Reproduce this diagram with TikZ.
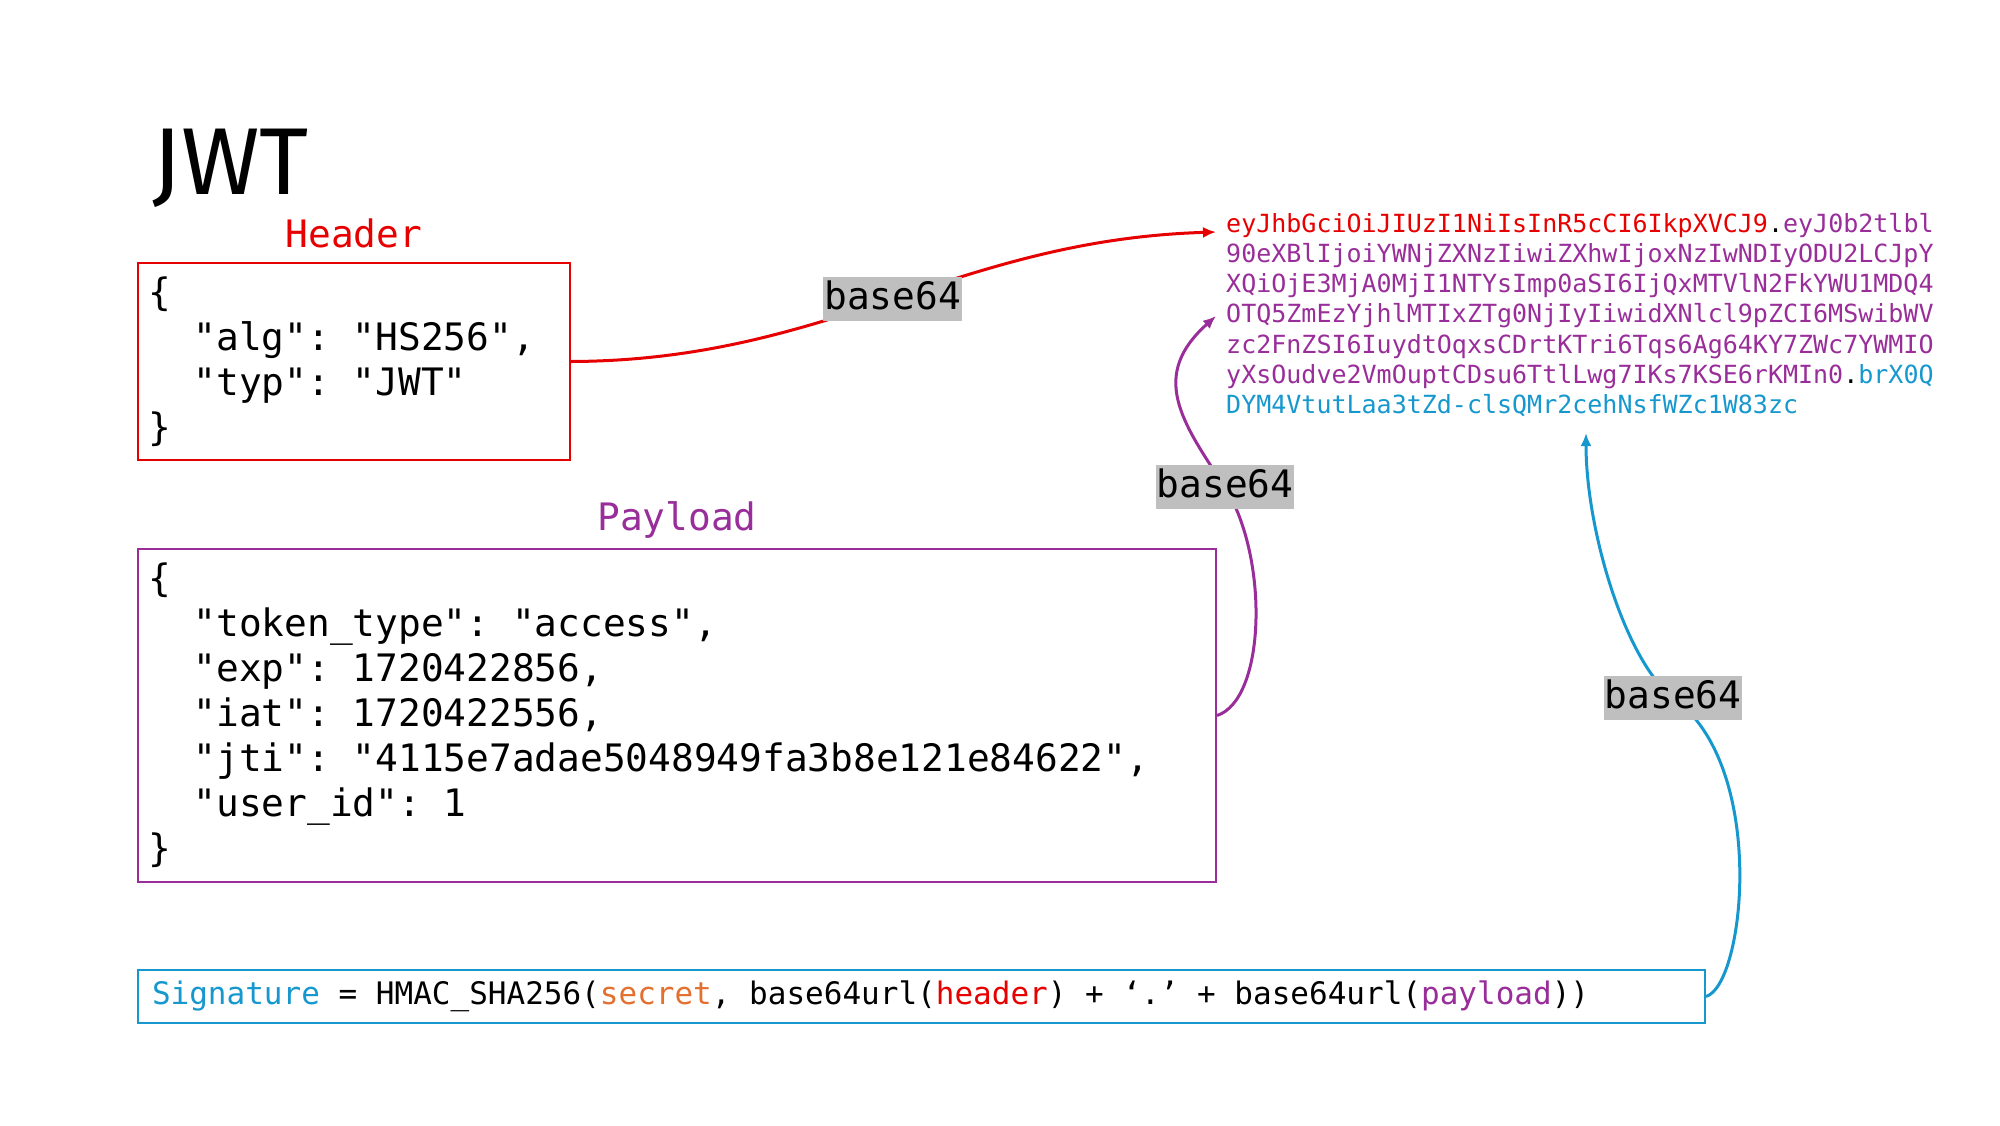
\documentclass[tikz,border=0pt]{standalone}
\usepackage{fontspec}
\setmonofont{DejaVu Sans Mono}
\newfontfamily\titlefont{Fira Sans}
\usetikzlibrary{arrows.meta}
\definecolor{jred}{RGB}{230,0,0}
\definecolor{jpurple}{RGB}{153,45,153}
\definecolor{jblue}{RGB}{22,152,206}
\definecolor{jorange}{RGB}{228,112,48}
\definecolor{jgray}{RGB}{191,191,191}
\newcommand\tsp{\hspace*{0.60205em}}
\tikzset{
  codebox/.style={draw, line width=2pt, rectangle, align=left, inner xsep=10pt,
    font=\ttfamily\fontsize{37.8pt}{45pt}\selectfont},
  boxlabel/.style={anchor=base, font=\ttfamily\fontsize{37.8pt}{45pt}\selectfont},
  lbl/.style={fill=jgray, text=black, inner xsep=1pt, inner ysep=4pt,
    text height=28pt, text depth=8pt, minimum width=136pt,
    font=\ttfamily\fontsize{37.8pt}{45pt}\selectfont},
  tokline/.style={anchor=base west, inner xsep=10pt, inner ysep=0pt,
    font=\ttfamily\fontsize{25pt}{30pt}\selectfont},
  conn/.style={line width=3pt, -{Latex[length=13pt,width=11pt]}},
}
\begin{document}
\begin{tikzpicture}[x=1pt,y=-1pt]
\useasboundingbox (0,0) rectangle (2000,1125);

% title
\node[anchor=base west, inner sep=0pt, font=\titlefont\fontsize{95pt}{100pt}\selectfont] (title) at (152,194) {JWT};

% header
\node[codebox, draw=jred, anchor=north west, text width=412pt, minimum height=197pt] (hdr) at (137,262)
  {\{\\\phantom{xx}"alg":\tsp"HS256",\\\phantom{xx}"typ":\tsp"JWT"\\\}};
\node[boxlabel, text=jred] (hdrlbl) at ([yshift=15pt]hdr.north) {Header};

% payload
\node[codebox, draw=jpurple, anchor=north west, text width=1058pt, minimum height=333pt] (pay) at (137,548)
  {\{\\\phantom{xx}"token\_type":\tsp"access",\\\phantom{xx}"exp":\tsp1720422856,\\\phantom{xx}"iat":\tsp1720422556,\\\phantom{xx}"jti":\tsp"4115e7adae5048949fa3b8e121e84622",\\\phantom{xx}"user\_id":\tsp1\\\}};
\node[boxlabel, text=jpurple] (paylbl) at ([yshift=18pt]pay.north) {Payload};

% signature
\node[draw=jblue, line width=2pt, anchor=north west, text width=1539pt, inner xsep=14pt, align=left,
  minimum height=53pt, font=\ttfamily\fontsize{31pt}{37pt}\selectfont] (sig) at (137,969)
  {{\color{jblue}Signature}\tsp=\tsp HMAC\_SHA256({\color{jorange}secret},\tsp base64url({\color{jred}header})\tsp+\tsp‘.’\tsp+\tsp base64url({\color{jpurple}payload}))};

% token
\node[tokline] (tl1) at (1216,232) {{\color{jred}eyJhbGciOiJIUzI1NiIsInR5cCI6IkpXVCJ9}{\color{black}.}{\color{jpurple}eyJ0b2tlbl}};
\node[tokline, text=jpurple] (tl2) at (1216,262.3) {90eXBlIjoiYWNjZXNzIiwiZXhwIjoxNzIwNDIyODU2LCJpY};
\node[tokline, text=jpurple] (tl3) at (1216,292.6) {XQiOjE3MjA0MjI1NTYsImp0aSI6IjQxMTVlN2FkYWU1MDQ4};
\node[tokline, text=jpurple] (tl4) at (1216,322.9) {OTQ5ZmEzYjhlMTIxZTg0NjIyIiwidXNlcl9pZCI6MSwibWV};
\node[tokline, text=jpurple] (tl5) at (1216,353.2) {zc2FnZSI6IuydtOqxsCDrtKTri6Tqs6Ag64KY7ZWc7YWMIO};
\node[tokline, text=jpurple] (tl6) at (1216,383.5) {yXsOudve2VmOuptCDsu6TtlLwg7IKs7KSE6rKMIn0{\color{black}.}{\color{jblue}brX0Q}};
\node[tokline, text=jblue] (tl7) at (1216,413.8) {DYM4VtutLaa3tZd-clsQMr2cehNsfWZc1W83zc};

\coordinate (ptip) at (tl4.west);
\coordinate (btip) at (1586,433);

% connectors
\draw[conn, draw=jred] (hdr.east) .. controls (830,360.5) and (955,240) .. (tl1.base west)
  node[pos=0.5, lbl] (b1) {base64};

\draw[conn, draw=jpurple] (pay.east) .. controls (1265,700) and (1270,560) .. (1225,487)
  node[lbl] (b2) {base64}
  .. controls (1180,420) and (1150,375) .. (ptip);

\draw[conn, draw=jblue] (sig.east) .. controls (1745,985) and (1768,765) .. (1673,698)
  node[lbl] (b3) {base64}
  .. controls (1625,660) and (1586,530) .. (btip);
\end{tikzpicture}
\end{document}
